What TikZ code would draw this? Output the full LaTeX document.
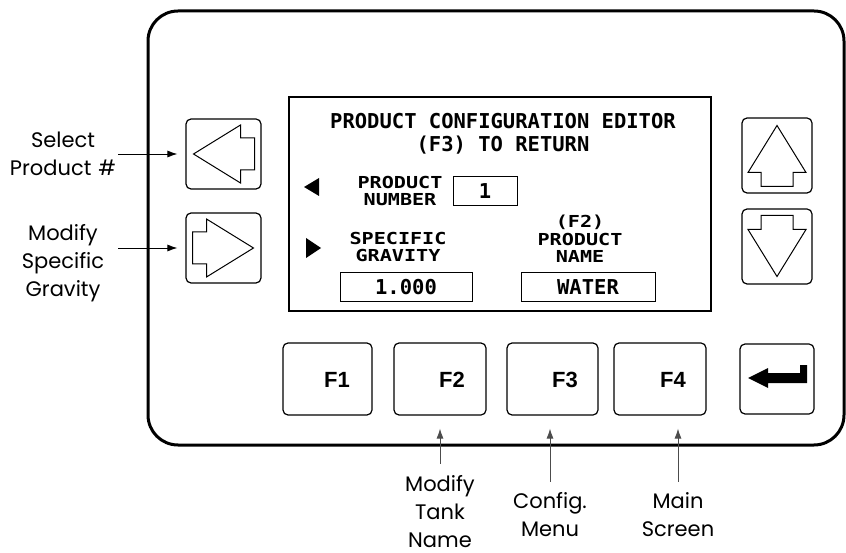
\documentclass[tikz,border=0pt]{standalone}
\usepackage{fontspec}
\setmainfont{Poppins}
\setsansfont{Liberation Sans}
\setmonofont{DejaVu Sans Mono}
\newfontfamily\lcdwide{DejaVu Sans Mono}[FakeStretch=1.22]
\usetikzlibrary{arrows, arrows.meta, positioning, shapes}
\tikzstyle{panel} = [draw, line width=3pt, rectangle, rounded corners=30pt, minimum width=696pt, minimum height=434pt]
\tikzstyle{lcd} = [draw, line width=1.6pt, rectangle, minimum width=422pt, minimum height=214pt]
\tikzstyle{keypad} = [draw, line width=1.2pt, rectangle, rounded corners=5pt, inner sep=0pt]
\tikzstyle{fkey} = [keypad, minimum height=72pt]
\tikzstyle{fkeytext} = [font=\sffamily\bfseries\fontsize{22}{26}\selectfont]
\tikzstyle{glyph} = [draw, line width=1pt, line join=miter]
\tikzstyle{lcdtitle} = [font=\ttfamily\bfseries\fontsize{20.5}{23}\selectfont, align=center, inner sep=0pt]
\tikzstyle{lcdlabel} = [font=\lcdwide\bfseries\fontsize{16.5}{17.5}\selectfont, align=center, inner sep=0pt]
\tikzstyle{field} = [draw, line width=1pt, rectangle, minimum height=29pt, inner sep=0pt, font=\ttfamily\bfseries\fontsize{20.5}{23}\selectfont]
\tikzstyle{callout} = [font=\fontsize{21}{28}\selectfont, align=center, inner ysep=1pt]
\tikzstyle{pointer} = [-{Latex[length=10pt,width=7pt]}, line width=0.9pt]
\tikzstyle{pointerup} = [pointer, draw=black!70]
% arrow glyph of a cursor key: centre, rotation
\newcommand{\keyarrow}[2]{\draw[glyph, shift={(#1)}, rotate=#2] (0,-30) -- (29,17) -- (16,17) -- (16,31) -- (-16,31) -- (-16,17) -- (-29,17) -- cycle;}
\begin{document}
\begin{tikzpicture}[x=1pt, y=-1pt]
	\useasboundingbox (0,0) rectangle (846,553);
	\node[panel] (panel) at (496,228) {};
	\node[lcd] (screen) at (500,204) {};
	% screen contents
	\node[lcdtitle] (title) at (503,134) {PRODUCT CONFIGURATION EDITOR\\(F3) TO RETURN};
	\node[lcdlabel] (prodnum) at (400,191) {PRODUCT\\NUMBER};
	\node[field, minimum width=64pt] (numbox) at (485,191.5) {1};
	\node[lcdlabel] (spgrav) at (398,247) {SPECIFIC\\GRAVITY};
	\node[lcdlabel] (prodname) at (580,239) {(F2)\\PRODUCT\\NAME};
	\node[field, minimum width=132pt] (sgbox) at (406,287.5) {1.000};
	\node[field, minimum width=134pt] (namebox) at (588,287.5) {WATER};
	\fill (304,187) -- (319,178) -- (319,196) -- cycle;
	\fill (321,248) -- (306,238) -- (306,258) -- cycle;
	% cursor keys
	\node[keypad, minimum width=75pt, minimum height=70pt] (leftkey) at (223.5,154) {};
	\node[keypad, minimum width=75pt, minimum height=70pt] (rightkey) at (223.5,248) {};
	\node[keypad, minimum width=70pt, minimum height=75pt] (upkey) at (777,155.5) {};
	\node[keypad, minimum width=70pt, minimum height=75pt] (downkey) at (777,246.5) {};
	\node[keypad, minimum width=74pt, minimum height=70pt] (enterkey) at (777,379) {};
	\keyarrow{leftkey.center}{90}
	\keyarrow{rightkey.center}{-90}
	\keyarrow{upkey.center}{0}
	\keyarrow{downkey.center}{180}
	\fill (748,378) -- (768,368) -- (768,373) -- (800,373) -- (800,365) -- (807,365) -- (807,383) -- (768,383) -- (768,388) -- cycle;
	% function keys
	\node[fkey, minimum width=89pt] (f1) at (327.5,379) {};
	\node[fkey, minimum width=92pt] (f2) at (440,379) {};
	\node[fkey, minimum width=91pt] (f3) at (552.5,379) {};
	\node[fkey, minimum width=92pt] (f4) at (660,379) {};
	\node[fkeytext] (f1txt) at (337,380) {F1};
	\node[fkeytext] (f2txt) at (452,380) {F2};
	\node[fkeytext] (f3txt) at (565,380) {F3};
	\node[fkeytext] (f4txt) at (673,380) {F4};
	% callouts
	\node[callout, text width=110pt, inner xsep=0pt] (select) at (63,154) {Select\\Product \#};
	\node[callout, text width=110pt, inner xsep=0pt] (gravity) at (63,263) {Modify\\Specific\\Gravity};
	\node[callout] (tank) at (440,512) {Modify\\Tank\\Name};
	\node[callout] (config) at (550,515) {Config.\\Menu};
	\node[callout] (mainscr) at (678,515) {Main\\Screen};
	\draw[pointer, shorten >=8pt] (select.east |- leftkey.west) -- (leftkey.west);
	\draw[pointer, shorten >=8pt] (gravity.east |- rightkey.west) -- (rightkey.west);
	\draw[pointerup, shorten >=13pt] ([yshift=11pt]tank.north) -- (tank.north |- f2.south);
	\draw[pointerup, shorten >=13pt] ([yshift=10pt]config.north) -- (config.north |- f3.south);
	\draw[pointerup, shorten >=13pt] ([yshift=10pt]mainscr.north) -- (mainscr.north |- f4.south);
\end{tikzpicture}
\end{document}
